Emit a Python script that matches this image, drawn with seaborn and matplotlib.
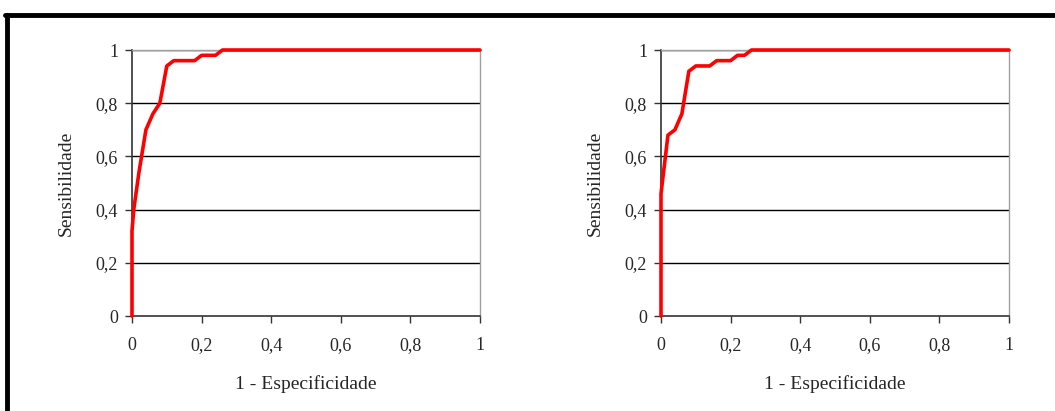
import numpy as np
import pandas as pd
import matplotlib
matplotlib.use("Agg")
import matplotlib.pyplot as plt
from matplotlib.lines import Line2D
import seaborn as sns

# ROC curves (1 - especificidade, sensibilidade)
fpr_left = [0, 0, 0.005, 0.02, 0.04, 0.06, 0.08, 0.10, 0.12, 0.18, 0.20, 0.24, 0.26, 1.0]
tpr_left = [0, 0.32, 0.40, 0.54, 0.70, 0.76, 0.80, 0.94, 0.96, 0.96, 0.98, 0.98, 1.0, 1.0]

fpr_right = [0, 0, 0.02, 0.04, 0.06, 0.08, 0.10, 0.14, 0.16, 0.20, 0.22, 0.24, 0.26, 1.0]
tpr_right = [0, 0.46, 0.68, 0.70, 0.76, 0.92, 0.94, 0.94, 0.96, 0.96, 0.98, 0.98, 1.0, 1.0]

tick_vals = [0, 0.2, 0.4, 0.6, 0.8, 1]
tick_labels = ["0", "0,2", "0,4", "0,6", "0,8", "1"]
xlabel = "1 - Especificidade"
ylabel = "Sensibilidade"

sns.set_style("white")
plt.rcParams["font.family"] = ["Liberation Serif", "DejaVu Serif"]

fig = plt.figure(figsize=(10.55, 4.11), dpi=100)

W, H = 1055, 411
boxes = [(132, 480), (661, 1009)]
top_px, bot_px = 50, 316
curves = [(fpr_left, tpr_left), (fpr_right, tpr_right)]

for (x0, x1), (fx, ty) in zip(boxes, curves):
    ax = fig.add_axes([x0 / W, (H - bot_px) / H, (x1 - x0) / W, (bot_px - top_px) / H])
    df = pd.DataFrame({"x": fx, "y": ty})
    for y in tick_vals[1:]:
        ax.axhline(y, color="black", lw=1.0, zorder=1)
    sns.lineplot(data=df, x="x", y="y", sort=False, estimator=None,
                 color="#ff0000", lw=2.6, ax=ax, zorder=3)
    for ln in ax.lines[-1:]:
        ln.set_clip_on(False)
    ax.set_xlim(0, 1)
    ax.set_ylim(0, 1)
    ax.set_xticks(tick_vals)
    ax.set_xticklabels(tick_labels, fontsize=13)
    ax.set_yticks(tick_vals)
    ax.set_yticklabels(tick_labels, fontsize=13)
    ax.tick_params(axis="both", which="major", bottom=True, left=True,
                   direction="out", length=5, width=1, color="#333333")
    ax.tick_params(axis="x", pad=10)
    ax.tick_params(axis="y", pad=5)
    ax.set_xlabel(xlabel, fontsize=14, labelpad=15)
    ax.set_ylabel(ylabel, fontsize=14, labelpad=15)
    for side in ["left", "bottom"]:
        ax.spines[side].set_color("#333333")
        ax.spines[side].set_linewidth(1.2)
    for side in ["top", "right"]:
        ax.spines[side].set_visible(True)
        ax.spines[side].set_color("#a0a0a0")
        ax.spines[side].set_linewidth(1.0)

# outer frame (top and left edges)
fig.add_artist(Line2D([5 / W, 1], [1 - 15 / H, 1 - 15 / H], color="black", lw=3.5,
                      transform=fig.transFigure))
fig.add_artist(Line2D([7 / W, 7 / W], [0, 1 - 15 / H], color="black", lw=3.5,
                      transform=fig.transFigure))

fig.savefig("out.png", dpi=100)
